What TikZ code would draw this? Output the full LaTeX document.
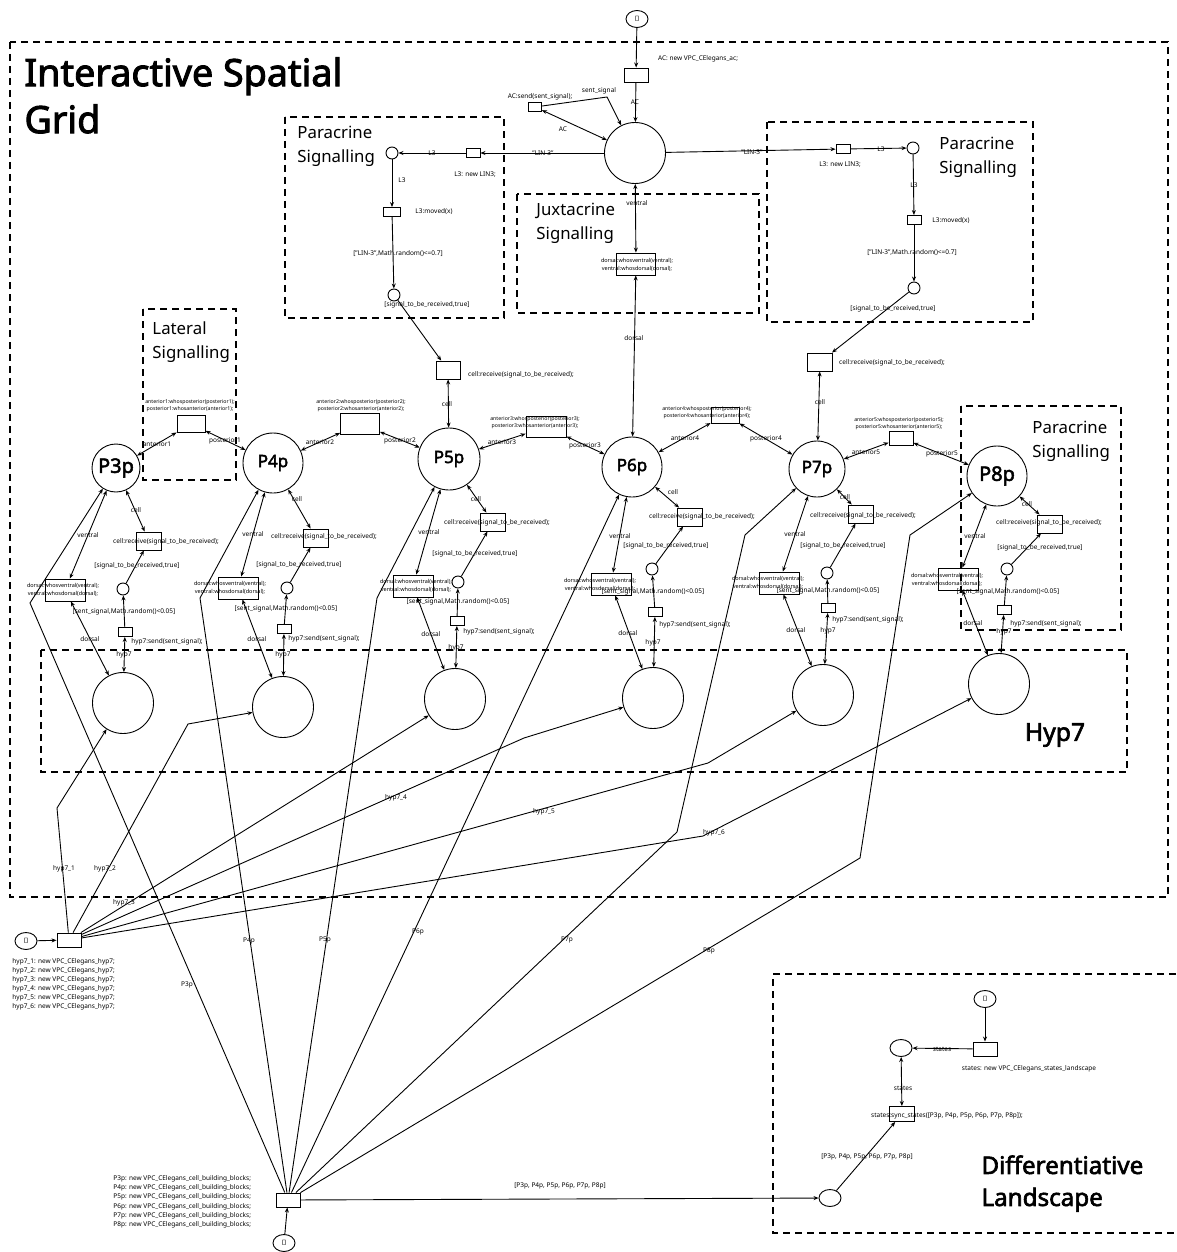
\documentclass[tikz,border=0pt]{standalone}
\usepackage{fontspec}
\setmainfont{Noto Sans}[AutoFakeBold=2.5]
\usepackage{tikz}
\usetikzlibrary{arrows.meta, shapes.geometric}

\begin{document}
\begin{tikzpicture}[x=1pt, y=-1pt, line width=0.9pt, >={Stealth[length=5pt, width=4pt]},
    place/.style={circle, draw, inner sep=0pt, minimum size=12pt},
    bigplace/.style={circle, draw, inner sep=0pt, minimum size=61pt},
    initplace/.style={ellipse, draw, inner sep=0pt, minimum width=22pt, minimum height=17pt, font=\fontsize{6}{6}\selectfont},
    trans/.style={rectangle, draw, inner sep=0pt, minimum width=14pt, minimum height=9pt},
    newtrans/.style={trans, minimum width=24pt, minimum height=14pt},
    recvtrans/.style={trans, minimum width=25pt, minimum height=18pt},
    jtrans/.style={trans, minimum width=40pt, minimum height=22pt},
    cellp/.style={circle, draw, inner sep=0pt, minimum size=60pt, font=\bfseries\fontsize{17}{17}\selectfont},
    lbl/.style={inner sep=0pt, font=\fontsize{6.5}{7.5}\selectfont},
    latlbl/.style={inner sep=0pt, align=center, font=\fontsize{5.2}{7}\selectfont},
    minilbl/.style={inner sep=0pt, align=center, font=\fontsize{5.5}{8}\selectfont},
    region/.style={line width=2pt, dash pattern=on 7pt off 5pt},
    regtitle/.style={inner sep=0pt, anchor=north west, align=left, font=\fontsize{16.8}{24}\selectfont},
    boldtitle/.style={inner sep=0pt, anchor=north west, align=left, font=\bfseries\fontsize{37.7}{47}\selectfont}]

    \useasboundingbox (0,0) rectangle (1176,1252);
    \fill[white] (0,0) rectangle (1176,1252);

    % regions
    \draw[region] (10,42) rectangle (1168,897);
    \draw[region] (285,117) rectangle (504,318);
    \draw[region] (767,122) rectangle (1033,322);
    \draw[region] (517,194) rectangle (759,313);
    \draw[region] (143,309) rectangle (236,480);
    \draw[region] (961,406) rectangle (1121,630);
    \draw[region] (41,650) rectangle (1127,772);
    \draw[region] (1176,974) -- (773,974) -- (773,1233) -- (1176,1233);

    \node[boldtitle] (gridtitle) at (24,57) {Interactive Spatial\\Grid};
    \node[regtitle] (parLtitle) at (297,126) {Paracrine\\Signalling};
    \node[regtitle] (parRtitle) at (939,137) {Paracrine\\Signalling};
    \node[regtitle] (juxtitle) at (536,203) {Juxtacrine\\Signalling};
    \node[regtitle] (lattitle) at (152,321) {Lateral\\Signalling};
    \node[regtitle] (par8title) at (1032,421) {Paracrine\\Signalling};
    \node[inner sep=0pt, font=\bfseries\fontsize{24.7}{24.7}\selectfont] (hyptitle) at (1055,735) {Hyp7};
    \node[inner sep=0pt, anchor=north west, align=left, font=\bfseries\fontsize{24.2}{32}\selectfont] (landtitle) at (981,1155) {Differentiative\\Landscape};

    % anchor cell
    \node[initplace] (ac0) at (637,19) {[]};
    \node[newtrans] (acnew) at (636,75) {};
    \node[lbl] (acnewtxt) at (698,59) {AC: new VPC\_CElegans\_ac;};
    \node[bigplace] (AC) at (635,153) {};
    \node[trans, minimum width=13pt] (acsend) at (535,107) {};
    \node[lbl] (acsendtxt) at (540,97) {AC:send(sent\_signal);};
    \draw[->] (ac0) -- (acnew);
    \draw[->] (acnew) -- (AC);
    \draw[->] (acsend) -- (607,97) -- (AC);
    \draw[<->] (acsend) -- (AC);
    \node[lbl] (acl1) at (635,102) {AC};
    \node[lbl] (acl2) at (599,91) {sent\_signal};
    \node[lbl] (acl3) at (563,129) {AC};

    % paracrine left
    \node[trans] (tLl) at (473,153) {};
    \node[place] (pLl) at (392,153) {};
    \node[trans, minimum width=17pt] (mLl) at (392,212) {};
    \node[place] (qLl) at (394,295) {};
    \node[trans, minimum width=24pt, minimum height=18pt] (rLl) at (448,370) {};
    \draw[->] (AC) -- (tLl);
    \draw[->] (tLl) -- (pLl);
    \draw[->] (pLl) -- (mLl);
    \draw[->] (mLl) -- (qLl);
    \draw[->] (qLl) -- (rLl);
    \node[lbl] (lin3l) at (543,153) {"LIN-3"};
    \node[lbl] (l3la) at (432,153) {L3};
    \node[lbl] (l3lnew) at (475,175) {L3: new LIN3;};
    \node[lbl] (l3lb) at (402,180) {L3};
    \node[lbl] (l3lmv) at (434,212) {L3:moved(x)};
    \node[lbl] (l3lrnd) at (398,254) {["LIN-3",Math.random()<=0.7]};
    \node[lbl] (l3lsig) at (427,305) {[signal\_to\_be\_received,true]};
    \node[lbl] (rLltxt) at (521,375) {cell:receive(signal\_to\_be\_received);};

    % paracrine right
    \node[trans] (tLr) at (843,149) {};
    \node[place] (pLr) at (913,148) {};
    \node[trans] (mLr) at (914,220) {};
    \node[place] (qLr) at (914,288) {};
    \node[recvtrans] (rLr) at (820,362) {};
    \draw[->] (AC) -- (tLr);
    \draw[->] (tLr) -- (pLr);
    \draw[->] (pLr) -- (mLr);
    \draw[->] (mLr) -- (qLr);
    \draw[->] (qLr) -- (rLr);
    \node[lbl] (lin3r) at (752,152) {"LIN-3"};
    \node[lbl] (l3ra) at (881,149) {L3};
    \node[lbl] (l3rnew) at (840,165) {L3: new LIN3;};
    \node[lbl] (l3rb) at (914,185) {L3};
    \node[lbl] (l3rmv) at (951,221) {L3:moved(x)};
    \node[lbl] (l3rrnd) at (912,253) {["LIN-3",Math.random()<=0.7]};
    \node[lbl] (l3rsig) at (893,309) {[signal\_to\_be\_received,true]};
    \node[lbl] (rLrtxt) at (892,363) {cell:receive(signal\_to\_be\_received);};

    % juxtacrine
    \node[jtrans, minimum width=39pt] (jAC) at (636,264) {};
    \node[minilbl] (jACtxt) at (637,265) {dorsal:whosventral(ventral);\\ventral:whosdorsal(dorsal);};
    \node[lbl] (jACv) at (637,203) {ventral};
    \node[lbl] (jACd) at (634,338) {dorsal};

    % cells
    \node[cellp, minimum size=48pt, font=\bfseries\fontsize{20}{20}\selectfont] (P3) at (116,468) {P3p};
    \node[cellp] (P4) at (273,463) {P4p};
    \node[cellp, minimum size=62pt] (P5) at (449,459) {P5p};
    \node[cellp] (P6) at (632,467) {P6p};
    \node[cellp, minimum size=56pt] (P7) at (817,469) {P7p};
    \node[cellp, font=\bfseries\fontsize{20}{20}\selectfont] (P8) at (997,476) {P8p};
    \draw[<->] (AC) -- (jAC);
    \draw[<->] (jAC) -- (P6);
    \draw[<->] (rLl) -- (P5);
    \draw[<->] (rLr) -- (P7);
    \node[lbl] (rLlc) at (447,404) {cell};
    \node[lbl] (rLrc) at (820,402) {cell};

    % lateral signalling
    \node[trans, minimum width=28pt, minimum height=17pt] (lat1) at (191,424) {};
    \node[trans, minimum width=39pt, minimum height=21pt] (lat2) at (360,424) {};
    \node[trans, minimum width=40pt, minimum height=21pt] (lat3) at (546,427) {};
    \node[trans, minimum width=28pt, minimum height=16pt] (lat4) at (725,415) {};
    \node[trans, minimum width=24pt, minimum height=14pt] (lat5) at (901,438) {};
    \node[latlbl] (lat1txt) at (190,406) {anterior1:whosposterior(posterior1);\\posterior1:whosanterior(anterior1);};
    \node[latlbl] (lat2txt) at (361,406) {anterior2:whosposterior(posterior2);\\posterior2:whosanterior(anterior2);};
    \node[latlbl] (lat3txt) at (535,423) {anterior3:whosposterior(posterior3);\\posterior3:whosanterior(anterior3);};
    \node[latlbl] (lat4txt) at (707,413) {anterior4:whosposterior(posterior4);\\posterior4:whosanterior(anterior4);};
    \node[latlbl] (lat5txt) at (899,424) {anterior5:whosposterior(posterior5);\\posterior5:whosanterior(anterior5);};
    \draw[<->] (lat1) -- (P3);
    \draw[<->] (lat1) -- (P4);
    \draw[<->] (lat2) -- (P4);
    \draw[<->] (lat2) -- (P5);
    \draw[<->] (lat3) -- (P5);
    \draw[<->] (lat3) -- (P6);
    \draw[<->] (lat4) -- (P6);
    \draw[<->] (lat4) -- (P7);
    \draw[<->] (lat5) -- (P7);
    \draw[<->] (lat5) -- (P8);
    \node[lbl] (ant1) at (157,444) {anterior1};
    \node[lbl] (post1) at (225,441) {posterior1};
    \node[lbl] (ant2) at (320,442) {anterior2};
    \node[lbl] (post2) at (400,441) {posterior2};
    \node[lbl] (ant3) at (502,442) {anterior3};
    \node[lbl] (post3) at (585,446) {posterior3};
    \node[lbl] (ant4) at (685,438) {anterior4};
    \node[lbl] (post4) at (766,439) {posterior4};
    \node[lbl] (ant5) at (866,452) {anterior5};
    \node[lbl] (post5) at (942,454) {posterior5};

    % P3p
    \node[recvtrans] (R3) at (149,541) {};
    \node[place] (S3) at (123,589) {};
    \node[trans] (T3) at (125,632) {};
    \node[jtrans] (J3) at (65,590) {};
    \node[bigplace] (H3) at (123,703) {};
    \node[lbl] (R3txt) at (166,542) {cell:receive(signal\_to\_be\_received);};
    \node[lbl] (T3txt) at (167,642) {hyp7:send(sent\_signal);};
    \node[minilbl] (J3txt) at (63,590) {dorsal:whosventral(ventral);\\ventral:whosdorsal(dorsal);};
    \draw[<->] (P3) -- (R3);
    \draw[->] (S3) -- (R3);
    \draw[->] (T3) -- (S3);
    \draw[<->] (T3) -- (H3);
    \draw[<->] (P3) -- (J3);
    \draw[<->] (J3) -- (H3);
    \node[lbl] (c3) at (136,510) {cell};
    \node[lbl] (s3) at (137,566) {[signal\_to\_be\_received,true]};
    \node[lbl] (m3) at (124,612) {[sent\_signal,Math.random()<0.05]};
    \node[lbl] (h3) at (124,655) {hyp7};
    \node[lbl] (v3) at (88,535) {ventral};
    \node[lbl] (d3) at (90,639) {dorsal};

    % P4p
    \node[recvtrans] (R4) at (316,538) {};
    \node[place] (S4) at (287,588) {};
    \node[trans] (T4) at (284,629) {};
    \node[jtrans] (J4) at (238,588) {};
    \node[bigplace] (H4) at (283,707) {};
    \node[lbl] (R4txt) at (324,537) {cell:receive(signal\_to\_be\_received);};
    \node[lbl] (T4txt) at (324,639) {hyp7:send(sent\_signal);};
    \node[minilbl] (J4txt) at (230,588) {dorsal:whosventral(ventral);\\ventral:whosdorsal(dorsal);};
    \draw[<->] (P4) -- (R4);
    \draw[->] (S4) -- (R4);
    \draw[->] (T4) -- (S4);
    \draw[<->] (T4) -- (H4);
    \draw[<->] (P4) -- (J4);
    \draw[<->] (J4) -- (H4);
    \node[lbl] (c4) at (297,499) {cell};
    \node[lbl] (s4) at (299,565) {[signal\_to\_be\_received,true]};
    \node[lbl] (m4) at (286,609) {[sent\_signal,Math.random()<0.05]};
    \node[lbl] (h4) at (283,655) {hyp7};
    \node[lbl] (v4) at (253,534) {ventral};
    \node[lbl] (d4) at (257,639) {dorsal};

    % P5p
    \node[recvtrans] (R5) at (493,522) {};
    \node[place] (S5) at (458,582) {};
    \node[trans] (T5) at (457,621) {};
    \node[jtrans] (J5) at (413,586) {};
    \node[bigplace] (H5) at (455,699) {};
    \node[lbl] (R5txt) at (497,523) {cell:receive(signal\_to\_be\_received);};
    \node[lbl] (T5txt) at (499,632) {hyp7:send(sent\_signal);};
    \node[minilbl] (J5txt) at (416,586) {dorsal:whosventral(ventral);\\ventral:whosdorsal(dorsal);};
    \draw[<->] (P5) -- (R5);
    \draw[->] (S5) -- (R5);
    \draw[->] (T5) -- (S5);
    \draw[<->] (T5) -- (H5);
    \draw[<->] (P5) -- (J5);
    \draw[<->] (J5) -- (H5);
    \node[lbl] (c5) at (476,499) {cell};
    \node[lbl] (s5) at (475,554) {[signal\_to\_be\_received,true]};
    \node[lbl] (m5) at (458,602) {[sent\_signal,Math.random()<0.05]};
    \node[lbl] (h5) at (456,648) {hyp7};
    \node[lbl] (v5) at (429,532) {ventral};
    \node[lbl] (d5) at (431,634) {dorsal};

    % P6p
    \node[recvtrans] (R6) at (690,517) {};
    \node[place] (S6) at (652,569) {};
    \node[trans] (T6) at (655,612) {};
    \node[jtrans] (J6) at (611,584) {};
    \node[bigplace] (H6) at (653,698) {};
    \node[lbl] (R6txt) at (702,517) {cell:receive(signal\_to\_be\_received);};
    \node[lbl] (T6txt) at (695,625) {hyp7:send(sent\_signal);};
    \node[minilbl] (J6txt) at (600,585) {dorsal:whosventral(ventral);\\ventral:whosdorsal(dorsal);};
    \draw[<->] (P6) -- (R6);
    \draw[->] (S6) -- (R6);
    \draw[->] (T6) -- (S6);
    \draw[<->] (T6) -- (H6);
    \draw[<->] (P6) -- (J6);
    \draw[<->] (J6) -- (H6);
    \node[lbl] (c6) at (673,492) {cell};
    \node[lbl] (s6) at (666,546) {[signal\_to\_be\_received,true]};
    \node[lbl] (m6) at (653,592) {[sent\_signal,Math.random()<0.05]};
    \node[lbl] (h6) at (653,643) {hyp7};
    \node[lbl] (v6) at (620,536) {ventral};
    \node[lbl] (d6) at (628,633) {dorsal};

    % P7p
    \node[recvtrans] (R7) at (861,514) {};
    \node[place] (S7) at (827,573) {};
    \node[trans] (T7) at (828,608) {};
    \node[jtrans] (J7) at (779,583) {};
    \node[bigplace] (H7) at (823,695) {};
    \node[lbl] (R7txt) at (863,516) {cell:receive(signal\_to\_be\_received);};
    \node[lbl] (T7txt) at (868,620) {hyp7:send(sent\_signal);};
    \node[minilbl] (J7txt) at (768,583) {dorsal:whosventral(ventral);\\ventral:whosdorsal(dorsal);};
    \draw[<->] (P7) -- (R7);
    \draw[->] (S7) -- (R7);
    \draw[->] (T7) -- (S7);
    \draw[<->] (T7) -- (H7);
    \draw[<->] (P7) -- (J7);
    \draw[<->] (J7) -- (H7);
    \node[lbl] (c7) at (845,497) {cell};
    \node[lbl] (s7) at (843,546) {[signal\_to\_be\_received,true]};
    \node[lbl] (m7) at (828,591) {[sent\_signal,Math.random()<0.05]};
    \node[lbl] (h7) at (828,631) {hyp7};
    \node[lbl] (v7) at (795,534) {ventral};
    \node[lbl] (d7) at (796,630) {dorsal};

    % P8p
    \node[recvtrans] (R8) at (1050,524) {};
    \node[place] (S8) at (1007,569) {};
    \node[trans] (T8) at (1004,610) {};
    \node[jtrans] (J8) at (958,579) {};
    \node[bigplace] (H8) at (999,684) {};
    \node[lbl] (R8txt) at (1049,523) {cell:receive(signal\_to\_be\_received);};
    \node[lbl] (T8txt) at (1046,624) {hyp7:send(sent\_signal);};
    \node[minilbl] (J8txt) at (947,580) {dorsal:whosventral(ventral);\\ventral:whosdorsal(dorsal);};
    \draw[<->] (P8) -- (R8);
    \draw[->] (S8) -- (R8);
    \draw[->] (T8) -- (S8);
    \draw[<->] (T8) -- (H8);
    \draw[<->] (P8) -- (J8);
    \draw[<->] (J8) -- (H8);
    \node[lbl] (c8) at (1027,504) {cell};
    \node[lbl] (s8) at (1040,548) {[signal\_to\_be\_received,true]};
    \node[lbl] (m8) at (1008,592) {[sent\_signal,Math.random()<0.05]};
    \node[lbl] (h8) at (1004,632) {hyp7};
    \node[lbl] (v8) at (975,536) {ventral};
    \node[lbl] (d8) at (973,623) {dorsal};

    % hyp7 creation
    \node[initplace] (hyp0) at (26,941) {[]};
    \node[newtrans] (hypnew) at (69,940) {};
    \node[lbl, anchor=north west, align=left, font=\fontsize{6.5}{9.1}\selectfont] (hyplist) at (12,958)
        {hyp7\_1: new VPC\_CElegans\_hyp7;\\hyp7\_2: new VPC\_CElegans\_hyp7;\\hyp7\_3: new VPC\_CElegans\_hyp7;\\hyp7\_4: new VPC\_CElegans\_hyp7;\\hyp7\_5: new VPC\_CElegans\_hyp7;\\hyp7\_6: new VPC\_CElegans\_hyp7;};
    \draw[->] (hyp0) -- (hypnew);
    \draw[->] (hypnew) -- (57,808) -- (H3);
    \draw[->] (hypnew) -- (188,724) -- (H4);
    \draw[->] (hypnew) -- (H5);
    \draw[->] (hypnew) -- (524,738) -- (H6);
    \draw[->] (hypnew) -- (708,763) -- (H7);
    \draw[->] (hypnew) -- (703,836) -- (H8);
    \node[lbl] (hl1) at (64,869) {hyp7\_1};
    \node[lbl] (hl2) at (105,869) {hyp7\_2};
    \node[lbl] (hl3) at (124,903) {hyp7\_3};
    \node[lbl] (hl4) at (396,798) {hyp7\_4};
    \node[lbl] (hl5) at (544,812) {hyp7\_5};
    \node[lbl] (hl6) at (714,833) {hyp7\_6};

    % cell creation
    \node[initplace] (cell0) at (284,1243) {[]};
    \node[newtrans] (cellnew) at (288,1200) {};
    \node[lbl, anchor=north west, align=left, font=\fontsize{6.5}{9.2}\selectfont] (celllist) at (113,1175)
        {P3p: new VPC\_CElegans\_cell\_building\_blocks;\\P4p: new VPC\_CElegans\_cell\_building\_blocks;\\P5p: new VPC\_CElegans\_cell\_building\_blocks;\\P6p: new VPC\_CElegans\_cell\_building\_blocks;\\P7p: new VPC\_CElegans\_cell\_building\_blocks;\\P8p: new VPC\_CElegans\_cell\_building\_blocks;};
    \draw[->] (cell0) -- (cellnew);
    \draw[->] (cellnew) -- (30,603) -- (P3);
    \draw[->] (cellnew) -- (200,598) -- (P4);
    \draw[->] (cellnew) -- (377,598) -- (P5);
    \draw[->] (cellnew) -- (P6);
    \draw[->] (cellnew) -- (677,832) -- (745,535) -- (P7);
    \draw[->] (cellnew) -- (860,858) -- (910,535) -- (P8);
    \node[lbl] (pl3) at (187,985) {P3p};
    \node[lbl] (pl4) at (249,941) {P4p};
    \node[lbl] (pl5) at (325,940) {P5p};
    \node[lbl] (pl6) at (418,932) {P6p};
    \node[lbl] (pl7) at (567,940) {P7p};
    \node[lbl] (pl8) at (709,951) {P8p};

    % differentiative landscape
    \node[initplace] (st0) at (985,999) {[]};
    \node[newtrans] (stnew) at (985,1049) {};
    \node[initplace] (states) at (901,1048) {};
    \node[trans, minimum width=25pt, minimum height=15pt] (sync) at (902,1114) {};
    \node[initplace] (cells) at (830,1198) {};
    \node[lbl] (stnewtxt) at (1029,1069) {states: new VPC\_CElegans\_states\_landscape};
    \node[lbl] (synctxt) at (947,1116) {states:sync\_states([P3p, P4p, P5p, P6p, P7p, P8p]);};
    \draw[->] (st0) -- (stnew);
    \draw[->] (stnew) -- (states);
    \draw[<->] (states) -- (sync);
    \draw[->] (cells) -- (sync);
    \draw[->] (cellnew) -- (cells);
    \node[lbl] (stl1) at (942,1049) {states};
    \node[lbl] (stl2) at (903,1088) {states};
    \node[lbl] (stl3) at (867,1157) {[P3p, P4p, P5p, P6p, P7p, P8p]};
    \node[lbl] (stl4) at (560,1186) {[P3p, P4p, P5p, P6p, P7p, P8p]};
\end{tikzpicture}
\end{document}
